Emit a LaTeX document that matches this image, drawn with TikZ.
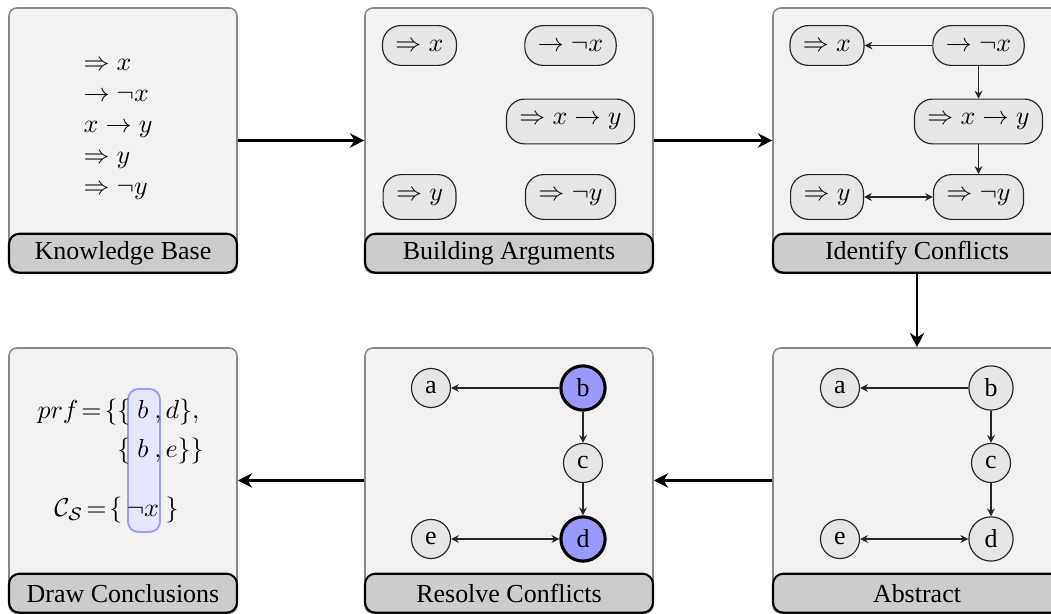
\documentclass[tikz,border=0pt]{standalone}
\usepackage{fontspec}
\setmainfont{Liberation Serif}
\usetikzlibrary{arrows.meta}
\definecolor{panelfill}{HTML}{F2F2F2}
\definecolor{panelline}{HTML}{888888}
\definecolor{labelfill}{HTML}{CCCCCC}
\definecolor{argfill}{HTML}{E6E6E6}
\definecolor{selfill}{HTML}{9999FF}
\definecolor{hlfill}{HTML}{E6E6FF}
\definecolor{hlline}{HTML}{9999FF}
\def\pxu{0.385pt}
\tikzset{
  panel/.style={draw=panelline, fill=panelfill, line width=0.6pt, rounded corners=3pt,
    inner sep=0pt, minimum height=265*\pxu},
  plabel/.style={draw=black, fill=labelfill, line width=0.8pt, rounded corners=4pt,
    inner sep=0pt, minimum height=39*\pxu, font=\fontsize{10}{12}\selectfont},
  flow/.style={-{Stealth[length=5.5pt,width=5.5pt]}, line width=1.1pt},
  arg/.style={draw=black!85, fill=argfill, line width=0.45pt, rounded corners=7pt,
    inner xsep=5pt, inner ysep=5.5pt, font=\fontsize{10}{12}\selectfont},
  att/.style={-{Stealth[length=3pt,width=3pt]}, line width=0.45pt, draw=black!85},
  batt/.style={{Stealth[length=3pt,width=3pt]}-{Stealth[length=3pt,width=3pt]}, line width=0.45pt, draw=black!85},
  absnode/.style={circle, draw=black!85, fill=argfill, line width=0.45pt, inner sep=3pt,
    font=\fontsize{10}{12}\selectfont},
  selnode/.style={absnode, fill=selfill, draw=black, line width=1.2pt},
  kbtext/.style={anchor=base west, inner sep=0pt, font=\fontsize{10}{12}\selectfont},
  eqtext/.style={inner sep=0pt, font=\fontsize{10}{12}\selectfont},
  hlbox/.style={draw=hlline, fill=hlfill, line width=0.7pt, rounded corners=4pt, inner sep=0pt}
}
\begin{document}
\begin{tikzpicture}[x=0.385pt, y=-0.385pt]
\useasboundingbox (0,0) rectangle (1051,614);
\clip (0,0) rectangle (1051,614);

% panels
\node[panel, minimum width=228*\pxu] (p1) at (123,140.5) {};
\node[panel, minimum width=288*\pxu] (p2) at (509,140.5) {};
\node[panel, minimum width=288*\pxu] (p3) at (917,140.5) {};
\node[panel, minimum width=228*\pxu] (p4) at (123,480.5) {};
\node[panel, minimum width=288*\pxu] (p5) at (509,480.5) {};
\node[panel, minimum width=288*\pxu] (p6) at (917,480.5) {};

% labels
\node[plabel, minimum width=228*\pxu, anchor=south] (l1) at (p1.south) {Knowledge Base};
\node[plabel, minimum width=288*\pxu, anchor=south] (l2) at (p2.south) {Building Arguments};
\node[plabel, minimum width=288*\pxu, anchor=south] (l3) at (p3.south) {Identify Conflicts};
\node[plabel, minimum width=228*\pxu, anchor=south] (l4) at (p4.south) {Draw Conclusions};
\node[plabel, minimum width=288*\pxu, anchor=south] (l5) at (p5.south) {Resolve Conflicts};
\node[plabel, minimum width=288*\pxu, anchor=south] (l6) at (p6.south) {Abstract};

% knowledge base
\node[kbtext] (kb1) at (83,71) {$\Rightarrow x$};
\node[kbtext] (kb2) at (83,102) {$\rightarrow \neg x$};
\node[kbtext] (kb3) at (83,133) {$x \rightarrow y$};
\node[kbtext] (kb4) at (83,164) {$\Rightarrow y$};
\node[kbtext] (kb5) at (83,195) {$\Rightarrow \neg y$};

% building arguments
\node[arg] (ba1) at (419.5,45.5) {$\Rightarrow x$};
\node[arg] (ba2) at (570.5,45.5) {$\rightarrow \neg x$};
\node[arg] (ba3) at (570.5,121.5) {$\Rightarrow x \rightarrow y$};
\node[arg] (ba4) at (419.5,197) {$\Rightarrow y$};
\node[arg] (ba5) at (570.5,197) {$\Rightarrow \neg y$};

% identify conflicts
\node[arg] (ic1) at (827,45.5) {$\Rightarrow x$};
\node[arg] (ic2) at (978.5,45.5) {$\rightarrow \neg x$};
\node[arg] (ic3) at (978.5,121.5) {$\Rightarrow x \rightarrow y$};
\node[arg] (ic4) at (827,197) {$\Rightarrow y$};
\node[arg] (ic5) at (978.5,197) {$\Rightarrow \neg y$};
\draw[att] (ic2) -- (ic1);
\draw[att] (ic2) -- (ic3);
\draw[att] (ic3) -- (ic5);
\draw[batt] (ic4) -- (ic5);

% abstract
\node[absnode] (aa) at (840,388) {a};
\node[absnode] (ab) at (991,388) {b};
\node[absnode] (ac) at (991,463) {c};
\node[absnode] (ad) at (991,539) {d};
\node[absnode] (ae) at (840,539) {e};
\draw[att] (ab) -- (aa);
\draw[att] (ab) -- (ac);
\draw[att] (ac) -- (ad);
\draw[batt] (ae) -- (ad);

% resolve conflicts
\node[absnode] (ra) at (431,388) {a};
\node[selnode] (rb) at (583,388) {b};
\node[absnode] (rc) at (583,463) {c};
\node[selnode] (rd) at (583,539) {d};
\node[absnode] (re) at (431,539) {e};
\draw[att] (rb) -- (ra);
\draw[att] (rb) -- (rc);
\draw[att] (rc) -- (rd);
\draw[batt] (re) -- (rd);

% draw conclusions
\node[hlbox, minimum width=32*\pxu, minimum height=143*\pxu] (hl) at (144,460.5) {};
\node[eqtext, anchor=base east] (e1a) at (131,419) {$prf\!=\!\{\{$};
\node[eqtext, anchor=base] (e1b) at (143,419) {$b$};
\node[eqtext, anchor=base] (e1c) at (158,419) {$,$};
\node[eqtext, anchor=base west] (e1d) at (165,419) {$d\},$};
\node[eqtext, anchor=base east] (e2a) at (131,458) {$\{$};
\node[eqtext, anchor=base] (e2b) at (143,458) {$b$};
\node[eqtext, anchor=base] (e2c) at (158,458) {$,$};
\node[eqtext, anchor=base west] (e2d) at (165,458) {$e\}\}$};
\node[eqtext, anchor=base east] (e3a) at (123,517) {$\mathcal{C}_{\mathcal{S}}\!=\!\{$};
\node[eqtext, anchor=base] (e3b) at (143,517) {$\neg x$};
\node[eqtext, anchor=base west] (e3c) at (165,517) {$\}$};

% flow arrows
\draw[flow] (p1.east) -- (p2.west);
\draw[flow] (p2.east) -- (p3.west);
\draw[flow] (p3.south) -- (p6.north);
\draw[flow] (p6.west) -- (p5.east);
\draw[flow] (p5.west) -- (p4.east);
\end{tikzpicture}
\end{document}
